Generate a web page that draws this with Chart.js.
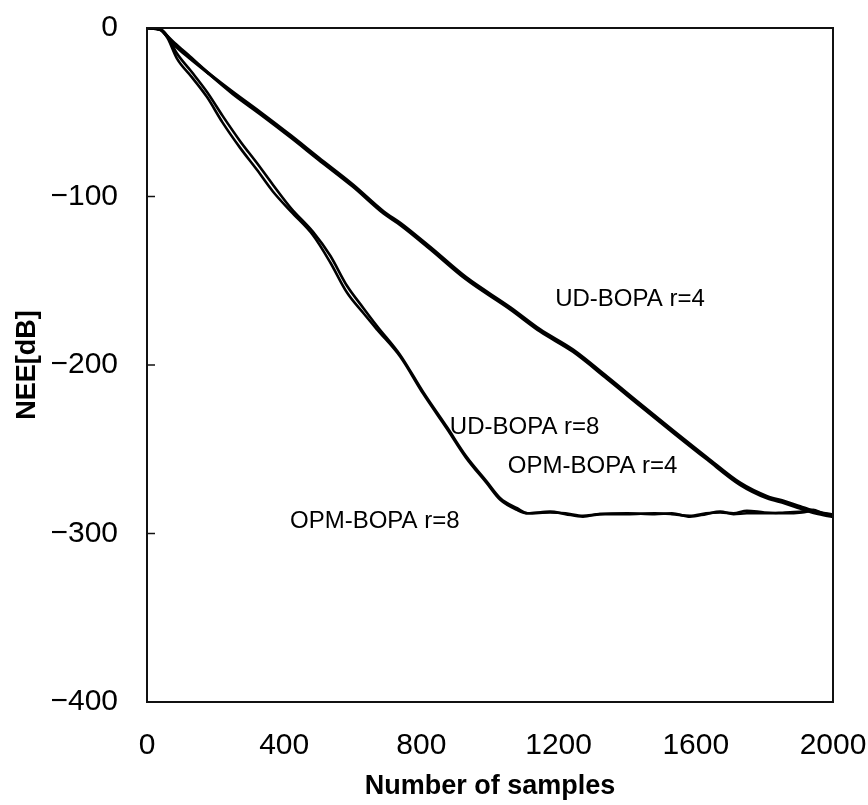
<!DOCTYPE html>
<html lang="en">
<head>
    <meta charset="UTF-8">
    <script src="https://cdn.jsdelivr.net/npm/chart.js"></script>
    <title>NEE vs number of samples</title>
    <style>
      body { margin: 0; background: #fff; }
      canvas { display: block; }
    </style>
</head>
<body>
  <canvas id="neeChart" width="868" height="805"></canvas>

  <script>
    // UD-BOPA r=4 (upper curve)
    const udR4X = [0, 40, 55, 80, 125, 180, 250, 330, 420, 500, 600, 690, 740, 825, 930, 1060, 1146, 1242, 1341, 1437, 1534, 1633, 1729, 1808, 1860, 1904, 1950, 2000];
    const udR4Y = [0, -1, -4, -10, -18, -27, -38, -50, -64, -77, -93, -109, -116, -130, -148, -166, -179, -191, -207, -223, -239, -255, -270, -278, -281, -284, -287, -289];

    // OPM-BOPA r=4 (almost on top of UD-BOPA r=4)
    const opmR4X = [0, 40, 55, 80, 125, 180, 250, 330, 420, 500, 600, 690, 740, 825, 930, 1060, 1146, 1242, 1341, 1437, 1534, 1633, 1729, 1808, 1860, 1904, 1950, 2000];
    const opmR4Y = [0, -1, -4, -9, -17, -27, -39, -51, -65, -78, -94, -110, -117, -131, -149, -167, -180, -192, -208, -224, -240, -256, -271, -279, -282, -285, -288, -290];

    // UD-BOPA r=8 (lower curve, outer line)
    const udR8X = [0, 40, 60, 87, 130, 175, 220, 271, 320, 367, 420, 484, 534, 583, 630, 671, 738, 805, 875, 930, 990, 1030, 1079, 1110, 1175, 1220, 1271, 1320, 1400, 1480, 1530, 1583, 1630, 1671, 1710, 1749, 1800, 1860, 1910, 1942, 1970, 2000];
    const udR8Y = [0, -1, -6, -18, -29, -41, -56, -71, -84, -97, -109, -123, -139, -157, -169, -179, -195, -217, -238, -255, -270, -280, -286, -288, -287, -288.5, -290, -288.5, -288, -288.5, -288, -290, -288.5, -287, -288.5, -288, -288, -287.5, -287, -286, -288, -289];

    // OPM-BOPA r=8 (lower curve, inner line)
    const opmR8X = [0, 40, 60, 87, 130, 175, 220, 271, 320, 367, 420, 484, 534, 583, 630, 671, 738, 805, 875, 930, 990, 1030, 1079, 1110, 1175, 1220, 1271, 1320, 1400, 1480, 1530, 1583, 1630, 1671, 1710, 1749, 1800, 1860, 1910, 1942, 1970, 2000];
    const opmR8Y = [0, -1, -5, -15, -26, -38, -52, -67, -80, -93, -107, -121, -135, -153, -166, -177, -194, -216, -237, -254, -269, -279, -285, -288, -287.5, -288, -289.5, -288.5, -288.5, -288, -288.5, -289.5, -288, -287.5, -288, -286.5, -287.5, -288, -287.5, -286.5, -288.5, -289.5];

    // curve labels, placed in data coordinates (left edge, vertical middle)
    const labelText = ['UD-BOPA r=4', 'UD-BOPA r=8', 'OPM-BOPA r=4', 'OPM-BOPA r=8'];
    const labelX = [1190, 883, 1052, 417];
    const labelY = [-161, -237, -260, -293];

    const xTicks = [0, 400, 800, 1200, 1600, 2000];
    const yTicks = [0, -100, -200, -300, -400];

    const toPoints = (xs, ys) => xs.map((x, i) => ({ x: x, y: ys[i] }));

    function lineSet(label, xs, ys, width) {
      return {
        label: label,
        data: toPoints(xs, ys),
        borderColor: '#000',
        borderWidth: width,
        pointRadius: 0,
        fill: false,
        cubicInterpolationMode: 'monotone'
      };
    }

    // tick labels must not push the plot area around
    function noOverhang(s) {
      s.paddingLeft = 0;
      s.paddingRight = 0;
      s.paddingTop = 0;
      s.paddingBottom = 0;
    }

    // frame, inward tick marks and curve labels
    const decorations = {
      id: 'decorations',
      afterDatasetsDraw(chart) {
        const { ctx, chartArea: a, scales } = chart;
        ctx.save();
        ctx.strokeStyle = '#111';
        ctx.lineWidth = 2;
        ctx.strokeRect(a.left, a.top, a.right - a.left, a.bottom - a.top);

        ctx.lineWidth = 1.5;
        yTicks.forEach(v => {
          if (v === 0 || v === -400) return;
          const py = scales.y.getPixelForValue(v);
          ctx.beginPath();
          ctx.moveTo(a.left, py);
          ctx.lineTo(a.left + 8, py);
          ctx.stroke();
        });

        ctx.fillStyle = '#000';
        ctx.font = '24px "Liberation Sans", Arial, sans-serif';
        ctx.textAlign = 'left';
        ctx.textBaseline = 'middle';
        labelText.forEach((t, i) => {
          ctx.fillText(t, scales.x.getPixelForValue(labelX[i]), scales.y.getPixelForValue(labelY[i]));
        });
        ctx.restore();
      }
    };

    const ctx = document.getElementById('neeChart').getContext('2d');
    new Chart(ctx, {
      type: 'line',
      data: {
        datasets: [
          lineSet('UD-BOPA r=4', udR4X, udR4Y, 3.2),
          lineSet('OPM-BOPA r=4', opmR4X, opmR4Y, 3.2),
          lineSet('UD-BOPA r=8', udR8X, udR8Y, 2.6),
          lineSet('OPM-BOPA r=8', opmR8X, opmR8Y, 2.6)
        ]
      },
      options: {
        responsive: false,
        animation: false,
        layout: { padding: { left: 0, top: 28, right: 35, bottom: 0 } },
        plugins: {
          legend: { display: false },
          tooltip: { enabled: false }
        },
        scales: {
          x: {
            type: 'linear',
            min: 0,
            max: 2000,
            afterBuildTicks: s => { s.ticks = xTicks.map(v => ({ value: v })); },
            afterFit: s => { s.height = 103; noOverhang(s); },
            grid: { display: false, drawTicks: false },
            border: { display: false },
            ticks: {
              padding: 26,
              color: '#000',
              maxRotation: 0,
              font: { family: '"Liberation Sans", Arial, sans-serif', size: 30 },
              callback: v => String(v)
            },
            title: {
              display: true,
              text: 'Number of samples',
              color: '#000',
              padding: { top: 0, bottom: 2 },
              font: { family: '"Liberation Sans", Arial, sans-serif', size: 27, weight: 'bold' }
            }
          },
          y: {
            type: 'linear',
            min: -400,
            max: 0,
            afterBuildTicks: s => { s.ticks = yTicks.map(v => ({ value: v })); },
            afterFit: s => { s.width = 147; noOverhang(s); },
            grid: { display: false, drawTicks: false },
            border: { display: false },
            ticks: {
              padding: 29,
              color: '#000',
              font: { family: '"Liberation Sans", Arial, sans-serif', size: 30 },
              callback: v => v < 0 ? '\u2212' + Math.abs(v) : String(v)
            },
            title: {
              display: true,
              text: 'NEE[dB]',
              color: '#000',
              padding: { top: 11, bottom: 0 },
              font: { family: '"Liberation Sans", Arial, sans-serif', size: 27, weight: 'bold' }
            }
          }
        }
      },
      plugins: [decorations]
    });
  </script>
</body>
</html>
